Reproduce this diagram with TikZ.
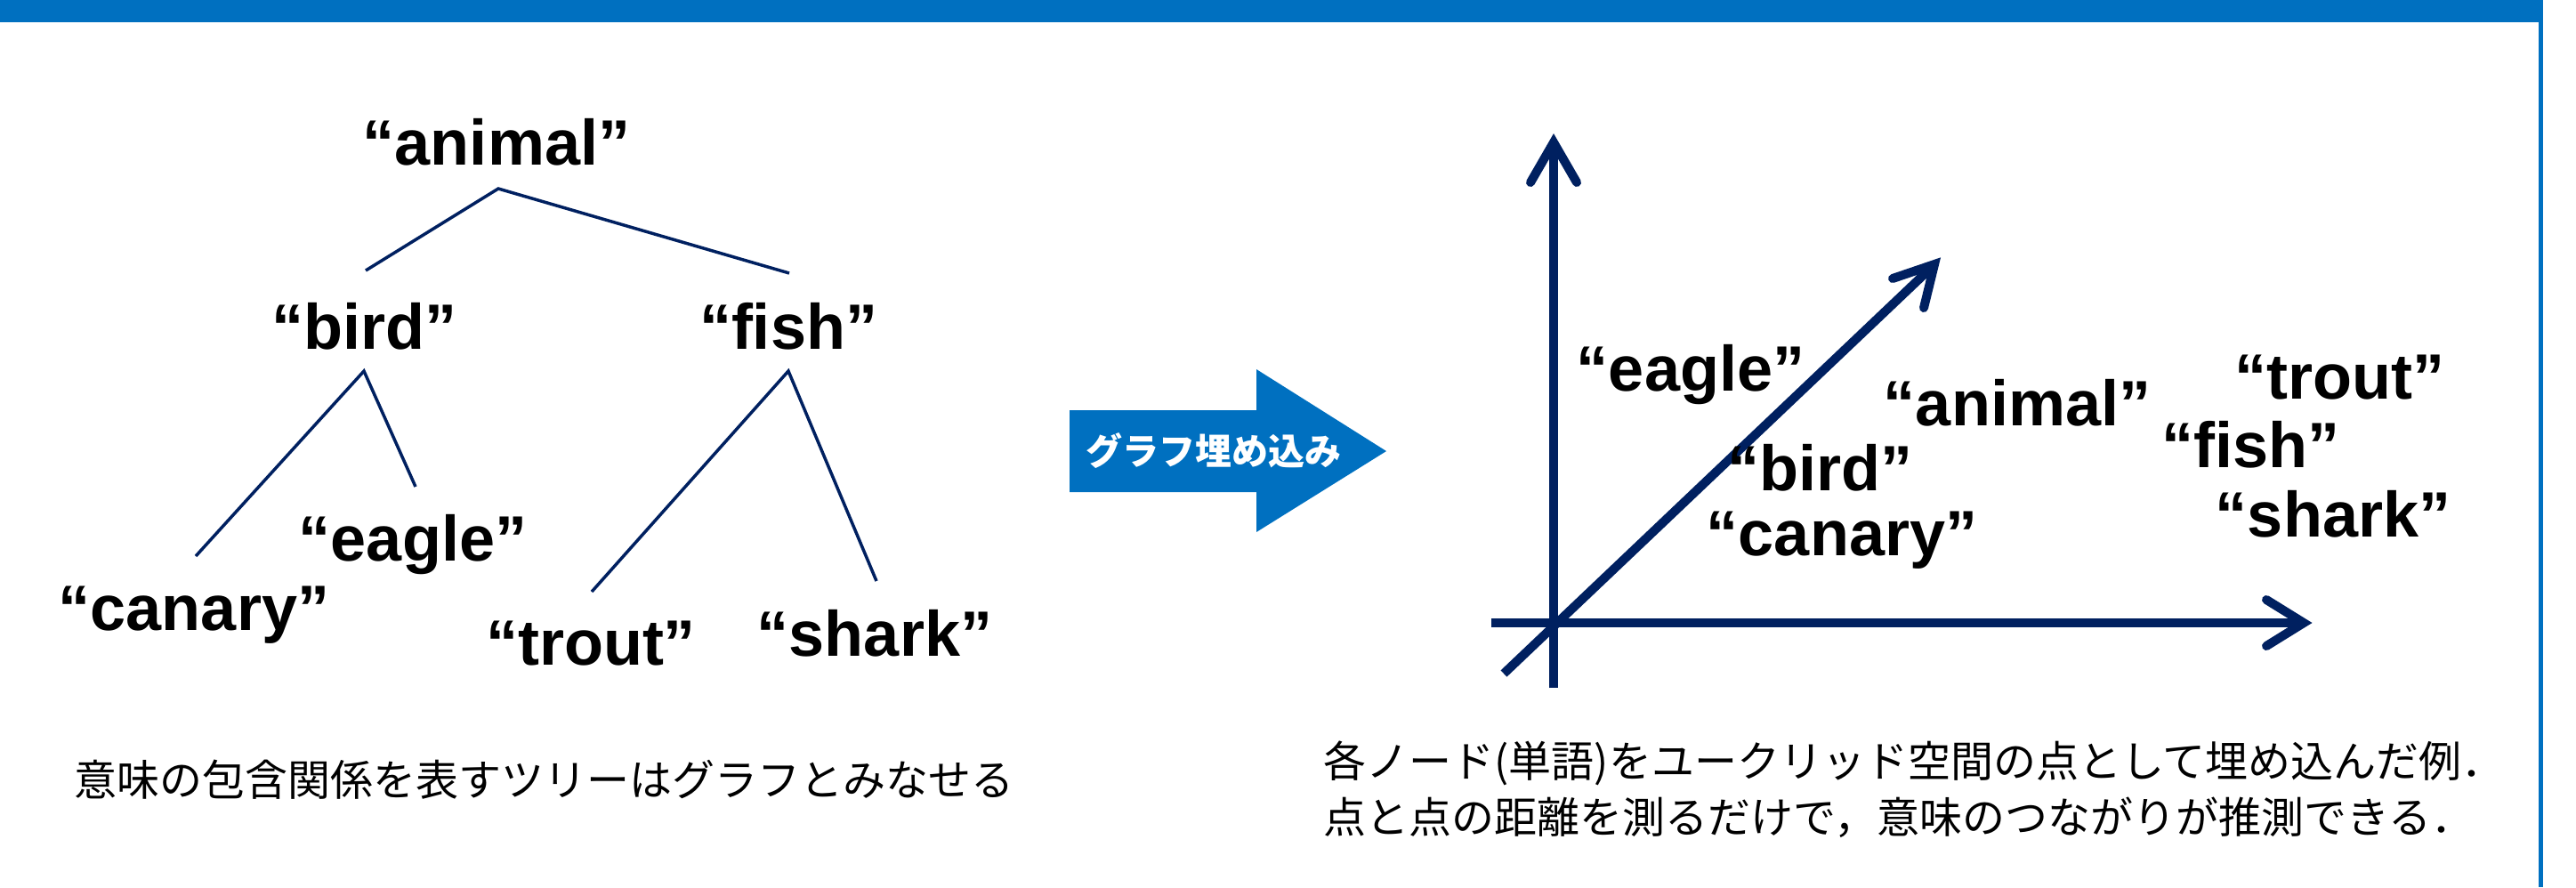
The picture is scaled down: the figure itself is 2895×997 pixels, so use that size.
\documentclass[tikz,border=0pt]{standalone}
\usepackage{fontspec}
\setmainfont{Liberation Sans}
\newfontfamily\jp{Noto Sans CJK JP}
\definecolor{hdrblue}{HTML}{0070C0}
\definecolor{navy}{HTML}{002060}
\begin{document}
\begin{tikzpicture}[x=0.3pt,y=-0.3pt,
  word/.style={inner sep=0pt, anchor=base, font=\fontsize{21.6}{24}\selectfont\bfseries},
  treeline/.style={navy, line width=1.05pt},
  axisline/.style={navy, line width=3pt},
  barb/.style={navy, line width=3pt, line cap=round, line join=miter},
  caption/.style={inner sep=0pt, anchor=base west, font=\jp\fontsize{14.4}{18.9}\selectfont}]
\useasboundingbox (0,0) rectangle (2895,997);
% header bar and right border
\fill[hdrblue] (0,0) rectangle (2858,25);
\fill[hdrblue] (2853,0) rectangle (2858,997);

% ---- tree ----
\node[word] (animalT) at (558,185) {“animal”};
\node[word] (birdT) at (409,392) {“bird”};
\node[word] (fishT) at (886,392) {“fish”};
\node[word] (eagleT) at (464,630) {“eagle”};
\node[word] (canaryT) at (218,708) {“canary”};
\node[word] (troutT) at (664,747) {“trout”};
\node[word] (sharkT) at (983,737) {“shark”};
\coordinate (rootTop) at (560,212);
\coordinate (birdUp) at (411,304);
\coordinate (fishUp) at (887,307);
\coordinate (birdDn) at (409,417);
\coordinate (canUp) at (220,625);
\coordinate (eagUp) at (467,547);
\coordinate (fishDn) at (886,417);
\coordinate (trUp) at (665,665);
\coordinate (shUp) at (985,653);
\draw[treeline] (birdUp) -- (rootTop) -- (fishUp);
\draw[treeline] (canUp) -- (birdDn) -- (eagUp);
\draw[treeline] (trUp) -- (fishDn) -- (shUp);

\node[caption] (capL) at (83,894) {意味の包含関係を表すツリーはグラフとみなせる};

% ---- block arrow ----
\fill[hdrblue] (1202,461) -- (1412,461) -- (1412,415) -- (1558,507) -- (1412,598) -- (1412,553) -- (1202,553) -- cycle;
\node[inner sep=0pt, text=white, font=\jp\bfseries\fontsize{12.3}{14}\selectfont] (arrowtxt) at (1364,507) {グラフ埋め込み};

% ---- axes ----
\coordinate (yEnd) at (1746,773);
\coordinate (yTip) at (1746,160);
\coordinate (xStart) at (1676,700);
\coordinate (xTip) at (2589,700);
\coordinate (dStart) at (1690,757);
\coordinate (dTip) at (2174,297);
\draw[axisline] (yEnd) -- (1746,168);
\draw[axisline] (xStart) -- (2582,700);
\draw[axisline] (dStart) -- (2168,303);
\draw[barb] (1720,205) -- (yTip) -- (1772,205);
\draw[barb] (2547,674) -- (xTip) -- (2547,726);
\draw[barb] (2127,313) -- (dTip) -- (2162,346);

% ---- embedded words ----
\node[word] (eagleE) at (1900,439) {“eagle”};
\node[word] (animalE) at (2267,478) {“animal”};
\node[word] (birdE) at (2045,551) {“bird”};
\node[word] (canaryE) at (2070,624) {“canary”};
\node[word] (troutE) at (2629,448) {“trout”};
\node[word] (fishE) at (2529,525) {“fish”};
\node[word] (sharkE) at (2622,603) {“shark”};

\node[caption] (capR1) at (1487,873) {各ノード(単語)をユークリッド空間の点として埋め込んだ例．};
\node[caption] (capR2) at (1487,936) {点と点の距離を測るだけで，意味のつながりが推測できる．};
\end{tikzpicture}
\end{document}
